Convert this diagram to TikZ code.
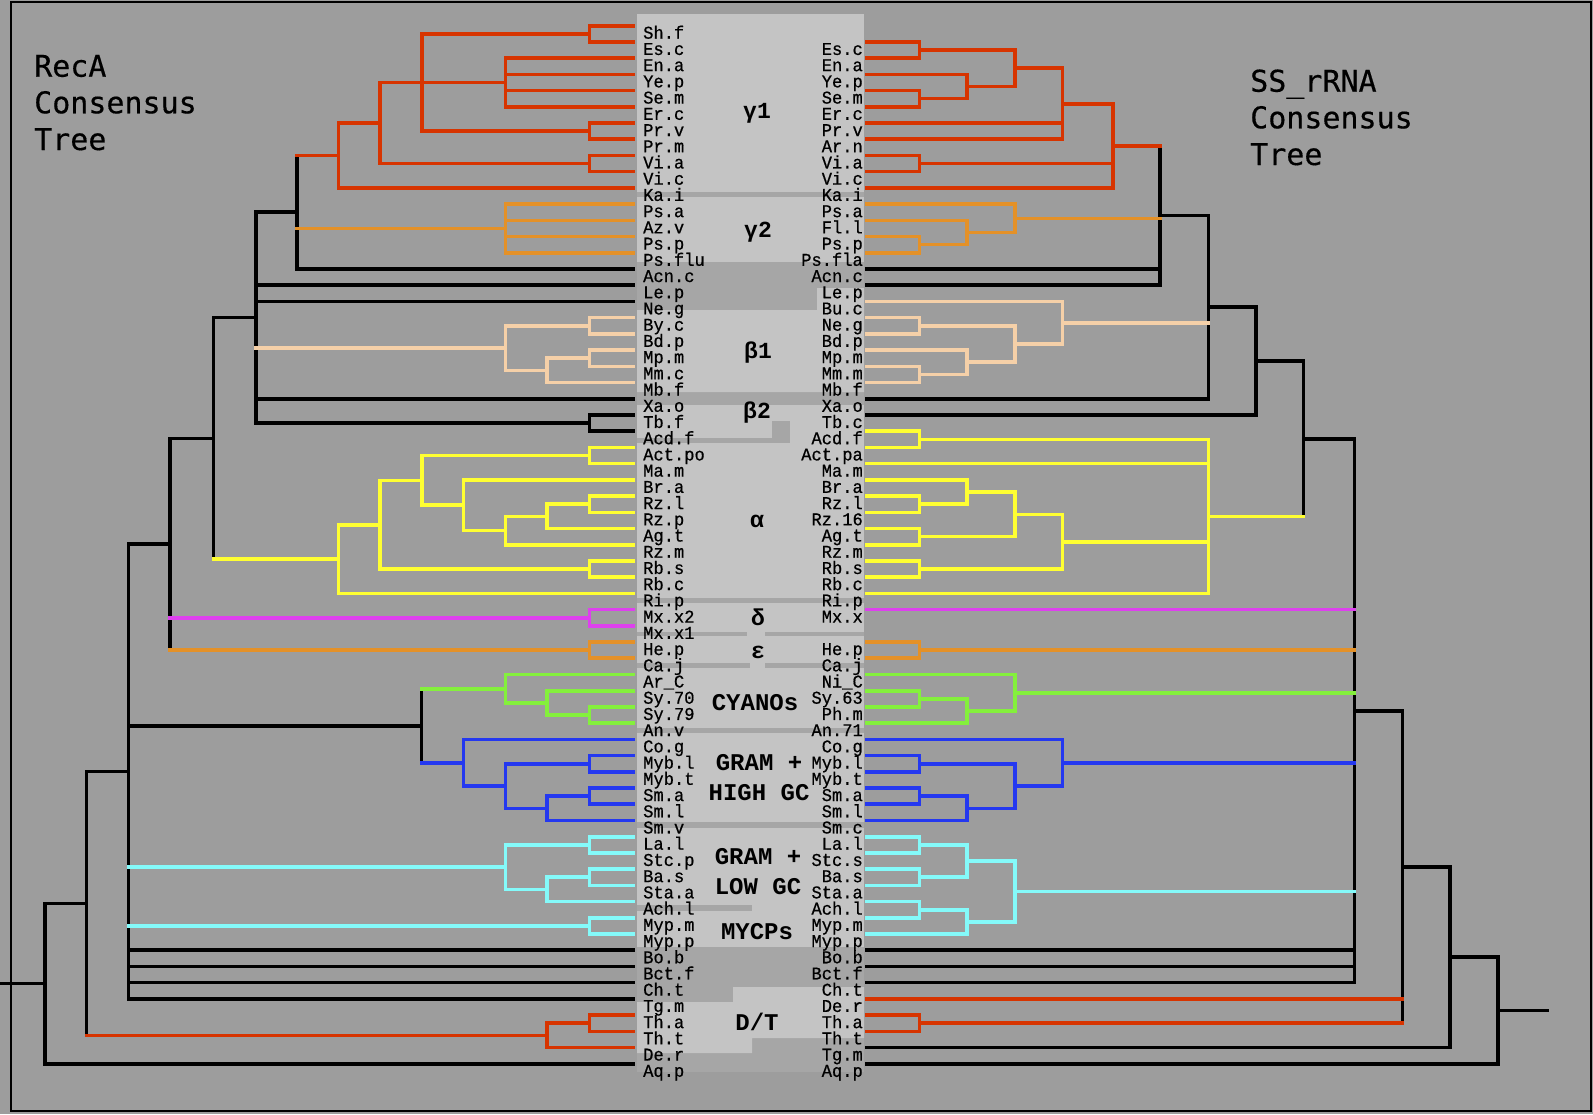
\documentclass[tikz,border=0pt]{standalone}
\usepackage{fontspec}
\newfontfamily\lblfont[FakeStretch=0.95,FakeBold=0.6]{Liberation Mono}
\newfontfamily\grpfont{Liberation Mono}
\newfontfamily\ttlfont[FakeBold=0.4]{DejaVu Sans Mono}
\usetikzlibrary{calc}
\definecolor{bgc}{RGB}{157,157,157}
\definecolor{midc}{RGB}{166,166,166}
\definecolor{litc}{RGB}{196,196,196}
\definecolor{cred}{RGB}{215,52,0}
\definecolor{corange}{RGB}{228,145,40}
\definecolor{cpeach}{RGB}{245,208,168}
\definecolor{cyellow}{RGB}{255,255,50}
\definecolor{cmag}{RGB}{222,64,238}
\definecolor{cgreen}{RGB}{132,240,60}
\definecolor{cblue}{RGB}{36,56,240}
\definecolor{ccyan}{RGB}{132,250,250}
\newcommand\tnode[6]{%
  \coordinate (tmp) at ($(#4)!0.5!(#5)$);
  \coordinate (#1) at (#2,0 |- tmp);
  \draw[tr,#3] (#1 |- #4) -- (#1 |- #5);
  \foreach \ch/\kk in {#6} {\draw[tr,\kk] (#1 |- \ch) -- (\ch);}
}
\begin{document}
\begin{tikzpicture}[x=1pt,y=-1pt,
  tr/.style={line width=3.6pt,line cap=rect},
  lblL/.style={font=\lblfont\fontsize{18}{18}\selectfont,inner sep=0pt,anchor=base west},
  lblR/.style={font=\lblfont\fontsize{18}{18}\selectfont,inner sep=0pt,anchor=base east},
  grp/.style={font=\grpfont\bfseries\fontsize{24}{30}\selectfont,inner sep=0pt,align=center},
  grpg/.style={font=\grpfont\bfseries\fontsize{23}{23}\selectfont,inner sep=0pt},
  ttl/.style={font=\ttlfont\fontsize{30}{30}\selectfont,inner sep=0pt,anchor=base west}]
\useasboundingbox (0,0) rectangle (1593,1114);
\fill[bgc] (0,0) rectangle (1593,1114);
% centre column
\fill[midc] (637,14) rectangle (864,1072);
\fill[litc] (637,14) rectangle (864,192);
\fill[litc] (637,197) rectangle (864,262);
\fill[litc] (637,310) -- (817,310) -- (817,288) -- (864,288) -- (864,392) -- (637,392) -- cycle;
\fill[litc] (637,405) rectangle (864,421);
\fill[litc] (637,421) rectangle (772,438);
\fill[litc] (790,421) rectangle (864,443);
\fill[litc] (637,443) rectangle (864,598);
\fill[litc] (637,603) rectangle (864,728);
\fill[midc] (637,632) rectangle (747,636);
\fill[midc] (765,632) rectangle (864,636);
\fill[midc] (637,663) rectangle (750,668);
\fill[midc] (765,663) rectangle (864,668);
\fill[litc] (637,733) rectangle (864,822);
\fill[litc] (637,828) rectangle (864,947);
\fill[midc] (637,905) rectangle (752,911);
\fill[litc] (733,987) -- (864,987) -- (864,1038) -- (752,1038) -- (752,1053) -- (637,1053) -- (637,1002) -- (733,1002) -- cycle;
% leaf end points
\foreach \i in {0,...,64}{
  \coordinate (l\i) at (633,{25.7+16.22*\i});
  \coordinate (r\i) at (867,{25.7+16.22*\i});
}
% ---------- left tree (RecA)
\tnode{A1}{589.3}{cred}{l0}{l1}{l0/cred,l1/cred}
\tnode{A2}{505.3}{cred}{l2}{l5}{l2/cred,l3/cred,l4/cred,l5/cred}
\tnode{A3}{589.3}{cred}{l6}{l7}{l6/cred,l7/cred}
\tnode{A4}{422}{cred}{A1}{A3}{A1/cred,A2/cred,A3/cred}
\tnode{A5}{589.3}{cred}{l8}{l9}{l8/cred,l9/cred}
\tnode{A6}{380}{cred}{A4}{A5}{A4/cred,A5/cred}
\tnode{A7}{338.3}{cred}{A6}{l10}{A6/cred,l10/cred}
\tnode{B1}{505.3}{corange}{l11}{l14}{l11/corange,l12/corange,l13/corange,l14/corange}
\tnode{C1}{296.7}{black}{A7}{l15}{A7/cred,B1/corange,l15/black}
\tnode{D1}{589.3}{cpeach}{l18}{l19}{l18/cpeach,l19/cpeach}
\tnode{D2}{589.3}{cpeach}{l20}{l21}{l20/cpeach,l21/cpeach}
\tnode{D3}{547}{cpeach}{D2}{l22}{D2/cpeach,l22/cpeach}
\tnode{D4}{505.3}{cpeach}{D1}{D3}{D1/cpeach,D3/cpeach}
\tnode{E1}{589.3}{black}{l24}{l25}{l24/black,l25/black}
\tnode{C2}{256}{black}{C1}{E1}{C1/black,l16/black,l17/black,D4/cpeach,l23/black,E1/black}
\tnode{F1}{589.3}{cyellow}{l26}{l27}{l26/cyellow,l27/cyellow}
\tnode{F2}{589.3}{cyellow}{l29}{l30}{l29/cyellow,l30/cyellow}
\tnode{F3}{547}{cyellow}{F2}{l31}{F2/cyellow,l31/cyellow}
\tnode{F4}{505.3}{cyellow}{F3}{l32}{F3/cyellow,l32/cyellow}
\tnode{F5}{463.3}{cyellow}{l28}{F4}{l28/cyellow,F4/cyellow}
\tnode{F6}{422}{cyellow}{F1}{F5}{F1/cyellow,F5/cyellow}
\tnode{F7}{589.3}{cyellow}{l33}{l34}{l33/cyellow,l34/cyellow}
\tnode{F8}{380}{cyellow}{F6}{F7}{F6/cyellow,F7/cyellow}
\tnode{F9}{338.3}{cyellow}{F8}{l35}{F8/cyellow,l35/cyellow}
\tnode{C3}{213.3}{black}{C2}{F9}{C2/black,F9/cyellow}
\tnode{G1}{589.3}{cmag}{l36}{l37}{l36/cmag,l37/cmag}
\tnode{G2}{589.3}{corange}{l38}{l39}{l38/corange,l39/corange}
\tnode{C4}{170}{black}{C3}{G2}{C3/black,G1/cmag,G2/corange}
\tnode{H1}{589.3}{cgreen}{l42}{l43}{l42/cgreen,l43/cgreen}
\tnode{H2}{547}{cgreen}{l41}{H1}{l41/cgreen,H1/cgreen}
\tnode{H3}{505.3}{cgreen}{l40}{H2}{l40/cgreen,H2/cgreen}
\tnode{I1}{589.3}{cblue}{l45}{l46}{l45/cblue,l46/cblue}
\tnode{I2}{589.3}{cblue}{l47}{l48}{l47/cblue,l48/cblue}
\tnode{I3}{547}{cblue}{I2}{l49}{I2/cblue,l49/cblue}
\tnode{I4}{505.3}{cblue}{I1}{I3}{I1/cblue,I3/cblue}
\tnode{I5}{463.3}{cblue}{l44}{I4}{l44/cblue,I4/cblue}
\tnode{H4}{421.6}{black}{H3}{I5}{H3/cgreen,I5/cblue}
\tnode{J1}{589.3}{ccyan}{l50}{l51}{l50/ccyan,l51/ccyan}
\tnode{J2}{589.3}{ccyan}{l52}{l53}{l52/ccyan,l53/ccyan}
\tnode{J3}{547}{ccyan}{J2}{l54}{J2/ccyan,l54/ccyan}
\tnode{J4}{505.3}{ccyan}{J1}{J3}{J1/ccyan,J3/ccyan}
\tnode{J5}{589.3}{ccyan}{l55}{l56}{l55/ccyan,l56/ccyan}
\tnode{C5}{128.6}{black}{C4}{l60}{C4/black,H4/black,J4/ccyan,J5/ccyan,l57/black,l58/black,l59/black,l60/black}
\tnode{K1}{589.3}{cred}{l61}{l62}{l61/cred,l62/cred}
\tnode{K2}{547}{cred}{K1}{l63}{K1/cred,l63/cred}
\tnode{C6}{86.5}{black}{C5}{K2}{C5/black,K2/cred}
\tnode{C7}{45}{black}{C6}{l64}{C6/black,l64/black}
\coordinate (Lroot) at (2,0 |- C7);
\draw[tr] (Lroot) -- (C7);
% ---------- right tree (SS rRNA)
\tnode{P1}{919.3}{cred}{r1}{r2}{r1/cred,r2/cred}
\tnode{P2}{919.3}{cred}{r4}{r5}{r4/cred,r5/cred}
\tnode{P3}{966.7}{cred}{r3}{P2}{r3/cred,P2/cred}
\tnode{P4}{1015}{cred}{P1}{P3}{P1/cred,P3/cred}
\tnode{P5}{1062.6}{cred}{P4}{r7}{P4/cred,r6/cred,r7/cred}
\tnode{P6}{919.3}{cred}{r8}{r9}{r8/cred,r9/cred}
\tnode{P7}{1113}{cred}{P5}{r10}{P5/cred,P6/cred,r10/cred}
\tnode{Q1}{919.3}{corange}{r13}{r14}{r13/corange,r14/corange}
\tnode{Q2}{966.7}{corange}{r12}{Q1}{r12/corange,Q1/corange}
\tnode{Q3}{1015}{corange}{r11}{Q2}{r11/corange,Q2/corange}
\tnode{S1}{1160}{black}{P7}{r16}{P7/cred,Q3/corange,r15/black,r16/black}
\tnode{T1}{919.3}{cpeach}{r18}{r19}{r18/cpeach,r19/cpeach}
\tnode{T2}{919.3}{cpeach}{r21}{r22}{r21/cpeach,r22/cpeach}
\tnode{T3}{966.7}{cpeach}{r20}{T2}{r20/cpeach,T2/cpeach}
\tnode{T4}{1015}{cpeach}{T1}{T3}{T1/cpeach,T3/cpeach}
\tnode{T5}{1062.6}{cpeach}{r17}{T4}{r17/cpeach,T4/cpeach}
\tnode{S2}{1208.3}{black}{S1}{r23}{S1/black,T5/cpeach,r23/black}
\tnode{S3}{1256}{black}{S2}{r24}{S2/black,r24/black}
\tnode{U1}{919.3}{cyellow}{r25}{r26}{r25/cyellow,r26/cyellow}
\tnode{U2}{919.3}{cyellow}{r29}{r30}{r29/cyellow,r30/cyellow}
\tnode{U3}{966.7}{cyellow}{r28}{U2}{r28/cyellow,U2/cyellow}
\tnode{U4}{919.3}{cyellow}{r31}{r32}{r31/cyellow,r32/cyellow}
\tnode{U5}{1015}{cyellow}{U3}{U4}{U3/cyellow,U4/cyellow}
\tnode{U6}{919.3}{cyellow}{r33}{r34}{r33/cyellow,r34/cyellow}
\tnode{U7}{1062.6}{cyellow}{U5}{U6}{U5/cyellow,U6/cyellow}
\tnode{U8}{1208.3}{cyellow}{U1}{r35}{U1/cyellow,r27/cyellow,U7/cyellow,r35/cyellow}
\tnode{S4}{1303.3}{black}{S3}{U8}{S3/black,U8/cyellow}
\tnode{V1}{919.3}{corange}{r38}{r39}{r38/corange,r39/corange}
\tnode{W1}{919.3}{cgreen}{r41}{r42}{r41/cgreen,r42/cgreen}
\tnode{W2}{966.7}{cgreen}{W1}{r43}{W1/cgreen,r43/cgreen}
\tnode{W3}{1015}{cgreen}{r40}{W2}{r40/cgreen,W2/cgreen}
\tnode{X1}{919.3}{cblue}{r45}{r46}{r45/cblue,r46/cblue}
\tnode{X2}{919.3}{cblue}{r47}{r48}{r47/cblue,r48/cblue}
\tnode{X3}{966.7}{cblue}{X2}{r49}{X2/cblue,r49/cblue}
\tnode{X4}{1015}{cblue}{X1}{X3}{X1/cblue,X3/cblue}
\tnode{X5}{1062.6}{cblue}{r44}{X4}{r44/cblue,X4/cblue}
\tnode{Y1}{919.3}{ccyan}{r50}{r51}{r50/ccyan,r51/ccyan}
\tnode{Y2}{919.3}{ccyan}{r52}{r53}{r52/ccyan,r53/ccyan}
\tnode{Y3}{966.7}{ccyan}{Y1}{Y2}{Y1/ccyan,Y2/ccyan}
\tnode{Y4}{919.3}{ccyan}{r54}{r55}{r54/ccyan,r55/ccyan}
\tnode{Y5}{966.7}{ccyan}{Y4}{r56}{Y4/ccyan,r56/ccyan}
\tnode{Y6}{1015}{ccyan}{Y3}{Y5}{Y3/ccyan,Y5/ccyan}
\tnode{S5}{1354.6}{black}{S4}{r59}{S4/black,r36/cmag,V1/corange,W3/cgreen,X5/cblue,Y6/ccyan,r57/black,r58/black,r59/black}
\tnode{Z1}{919.3}{cred}{r61}{r62}{r61/cred,r62/cred}
\tnode{S6}{1402.3}{black}{S5}{Z1}{S5/black,r60/cred,Z1/cred}
\tnode{S7}{1450}{black}{S6}{r63}{S6/black,r63/black}
\tnode{S8}{1498.2}{black}{S7}{r64}{S7/black,r64/black}
\coordinate (Rroot) at (1547.2,0 |- S8);
\draw[tr] (S8) -- (Rroot);
% ---------- leaf labels
\foreach \i/\lab in {0/Sh.f,1/Es.c,2/En.a,3/Ye.p,4/Se.m,5/Er.c,6/Pr.v,7/Pr.m,8/Vi.a,9/Vi.c,10/Ka.i,
 11/Ps.a,12/Az.v,13/Ps.p,14/Ps.flu,15/Acn.c,16/Le.p,17/Ne.g,18/By.c,19/Bd.p,20/Mp.m,21/Mm.c,22/Mb.f,
 23/Xa.o,24/Tb.f,25/Acd.f,26/Act.po,27/Ma.m,28/Br.a,29/Rz.l,30/Rz.p,31/Ag.t,32/Rz.m,33/Rb.s,34/Rb.c,35/Ri.p,
 36/Mx.x2,37/Mx.x1,38/He.p,39/Ca.j,40/Ar\_C,41/Sy.70,42/Sy.79,43/An.v,44/Co.g,45/Myb.l,46/Myb.t,47/Sm.a,
 48/Sm.l,49/Sm.v,50/La.l,51/Stc.p,52/Ba.s,53/Sta.a,54/Ach.l,55/Myp.m,56/Myp.p,57/Bo.b,58/Bct.f,59/Ch.t,
 60/Tg.m,61/Th.a,62/Th.t,63/De.r,64/Aq.p}
  \node[lblL] (tl\i) at (643,{38.7+16.22*\i}) {\lab};
\foreach \i/\lab in {1/Es.c,2/En.a,3/Ye.p,4/Se.m,5/Er.c,6/Pr.v,7/Ar.n,8/Vi.a,9/Vi.c,10/Ka.i,
 11/Ps.a,12/Fl.l,13/Ps.p,14/Ps.fla,15/Acn.c,16/Le.p,17/Bu.c,18/Ne.g,19/Bd.p,20/Mp.m,21/Mm.m,22/Mb.f,
 23/Xa.o,24/Tb.c,25/Acd.f,26/Act.pa,27/Ma.m,28/Br.a,29/Rz.l,30/Rz.16,31/Ag.t,32/Rz.m,33/Rb.s,34/Rb.c,35/Ri.p,
 36/Mx.x,38/He.p,39/Ca.j,40/Ni\_C,41/Sy.63,42/Ph.m,43/An.71,44/Co.g,45/Myb.l,46/Myb.t,47/Sm.a,
 48/Sm.l,49/Sm.c,50/La.l,51/Stc.s,52/Ba.s,53/Sta.a,54/Ach.l,55/Myp.m,56/Myp.p,57/Bo.b,58/Bct.f,59/Ch.t,
 60/De.r,61/Th.a,62/Th.t,63/Tg.m,64/Aq.p}
  \node[lblR] (tr\i) at (863,{38.7+16.22*\i}) {\lab};
% ---------- group labels
\node[grpg] (gG1) at (757,113) {γ1};
\node[grpg] (gG2) at (758,232) {γ2};
\node[grpg] (gB1) at (758,353) {β1};
\node[grpg] (gB2) at (757,413) {β2};
\node[grpg] (gA) at (757,521) {α};
\node[grpg] (gD) at (758,617) {δ};
\node[grpg] (gE) at (758,652) {ε};
\node[grp] (gCy) at (755,703) {CYANOs};
\node[grp] (gGH) at (759,778) {GRAM +\\HIGH GC};
\node[grp] (gGL) at (758,872) {GRAM +\\LOW GC};
\node[grp] (gMy) at (757,932) {MYCPs};
\node[grp] (gDT) at (757,1022) {D/T};
% ---------- titles
\node[ttl] (tL1) at (34,76.7) {RecA};
\node[ttl] (tL2) at (34,113.3) {Consensus};
\node[ttl] (tL3) at (34,150) {Tree};
\node[ttl] (tR1) at (1250,91.7) {SS\_rRNA};
\node[ttl] (tR2) at (1250,128.3) {Consensus};
\node[ttl] (tR3) at (1250,165) {Tree};
% frame
\draw[line width=1.5pt] (11,2) rectangle (1591,1111);
\end{tikzpicture}
\end{document}
